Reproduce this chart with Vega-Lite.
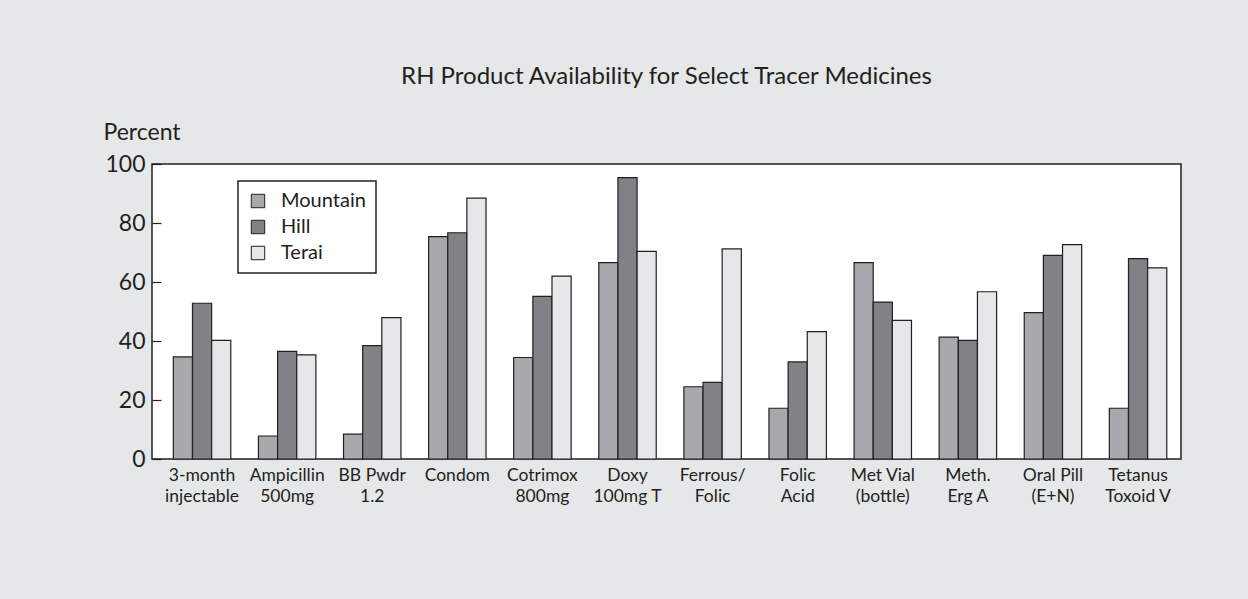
{
  "$schema": "https://vega.github.io/schema/vega-lite/v6.json",
  "autosize": "none",
  "width": 1029,
  "height": 295,
  "padding": {"left": 152, "top": 164, "right": 67, "bottom": 140},
  "background": "#e6e7e8",
  "title": {
    "text": "RH Product Availability for Select Tracer Medicines",
    "font": "Lato",
    "fontSize": 24,
    "fontWeight": "normal",
    "color": "#231f20",
    "anchor": "middle",
    "frame": "group",
    "offset": 32
  },
  "data": {
    "values": [
      {"item": "3-month|injectable", "region": "Mountain", "value": 34.6},
      {"item": "3-month|injectable", "region": "Hill", "value": 52.8},
      {"item": "3-month|injectable", "region": "Terai", "value": 40.2},
      {"item": "Ampicillin|500mg", "region": "Mountain", "value": 7.8},
      {"item": "Ampicillin|500mg", "region": "Hill", "value": 36.5},
      {"item": "Ampicillin|500mg", "region": "Terai", "value": 35.3},
      {"item": "BB Pwdr|1.2", "region": "Mountain", "value": 8.4},
      {"item": "BB Pwdr|1.2", "region": "Hill", "value": 38.4},
      {"item": "BB Pwdr|1.2", "region": "Terai", "value": 47.9},
      {"item": "Condom", "region": "Mountain", "value": 75.4},
      {"item": "Condom", "region": "Hill", "value": 76.7},
      {"item": "Condom", "region": "Terai", "value": 88.4},
      {"item": "Cotrimox|800mg", "region": "Mountain", "value": 34.4},
      {"item": "Cotrimox|800mg", "region": "Hill", "value": 55.1},
      {"item": "Cotrimox|800mg", "region": "Terai", "value": 62.0},
      {"item": "Doxy|100mg T", "region": "Mountain", "value": 66.6},
      {"item": "Doxy|100mg T", "region": "Hill", "value": 95.4},
      {"item": "Doxy|100mg T", "region": "Terai", "value": 70.4},
      {"item": "Ferrous/|Folic", "region": "Mountain", "value": 24.5},
      {"item": "Ferrous/|Folic", "region": "Hill", "value": 26.0},
      {"item": "Ferrous/|Folic", "region": "Terai", "value": 71.2},
      {"item": "Folic|Acid", "region": "Mountain", "value": 17.2},
      {"item": "Folic|Acid", "region": "Hill", "value": 32.9},
      {"item": "Folic|Acid", "region": "Terai", "value": 43.2},
      {"item": "Met Vial|(bottle)", "region": "Mountain", "value": 66.6},
      {"item": "Met Vial|(bottle)", "region": "Hill", "value": 53.2},
      {"item": "Met Vial|(bottle)", "region": "Terai", "value": 47.0},
      {"item": "Meth.|Erg A", "region": "Mountain", "value": 41.3},
      {"item": "Meth.|Erg A", "region": "Hill", "value": 40.2},
      {"item": "Meth.|Erg A", "region": "Terai", "value": 56.7},
      {"item": "Oral Pill|(E+N)", "region": "Mountain", "value": 49.6},
      {"item": "Oral Pill|(E+N)", "region": "Hill", "value": 69.0},
      {"item": "Oral Pill|(E+N)", "region": "Terai", "value": 72.7},
      {"item": "Tetanus|Toxoid V", "region": "Mountain", "value": 17.2},
      {"item": "Tetanus|Toxoid V", "region": "Hill", "value": 67.9},
      {"item": "Tetanus|Toxoid V", "region": "Terai", "value": 64.8}
    ]
  },
  "mark": {"type": "bar", "stroke": "#231f20", "strokeWidth": 1.2},
  "encoding": {
    "x": {
      "field": "item",
      "type": "nominal",
      "sort": null,
      "scale": {"paddingInner": 0.325, "paddingOuter": 0.209, "align": 0.6},
      "axis": {
        "title": null,
        "labelAngle": 0,
        "labelExpr": "split(datum.label, '|')",
        "ticks": false,
        "domain": false,
        "labelFont": "Lato",
        "labelFontSize": 17.5,
        "labelColor": "#231f20",
        "labelPadding": 7,
        "labelLineHeight": 21,
        "labelBaseline": "top"
      }
    },
    "xOffset": {
      "field": "region",
      "sort": ["Mountain", "Hill", "Terai"],
      "scale": {"paddingInner": 0, "paddingOuter": 0}
    },
    "y": {
      "field": "value",
      "type": "quantitative",
      "scale": {"domain": [0, 100]},
      "axis": {
        "values": [0, 20, 40, 60, 80, 100],
        "grid": false,
        "domain": false,
        "tickSize": -9,
        "tickColor": "#231f20",
        "tickWidth": 1.2,
        "labelFont": "Lato",
        "labelFontSize": 23,
        "labelColor": "#231f20",
        "labelPadding": 16,
        "title": "Percent",
        "titleAngle": 0,
        "titleX": -49,
        "titleY": -25,
        "titleAlign": "left",
        "titleBaseline": "alphabetic",
        "titleFont": "Lato",
        "titleFontSize": 23,
        "titleFontWeight": "normal",
        "titleColor": "#231f20"
      }
    },
    "color": {
      "field": "region",
      "type": "nominal",
      "scale": {"domain": ["Mountain", "Hill", "Terai"], "range": ["#a7a9ac", "#808285", "#e6e7e8"]},
      "legend": {
        "title": null,
        "orient": "none",
        "legendX": 86,
        "legendY": 17,
        "fillColor": "white",
        "strokeColor": "#231f20",
        "padding": 10,
        "labelFont": "Lato",
        "labelFontSize": 20,
        "labelColor": "#231f20",
        "labelOffset": 13,
        "symbolType": "square",
        "symbolSize": 180,
        "symbolStrokeColor": "#231f20",
        "symbolStrokeWidth": 1,
        "symbolOpacity": 1,
        "rowPadding": 6,
        "encode": {"legend": {"update": {"strokeWidth": {"value": 1.5}}}}
      }
    }
  },
  "config": {
    "view": {"fill": "white", "stroke": "#231f20", "strokeWidth": 1.5}
  }
}
